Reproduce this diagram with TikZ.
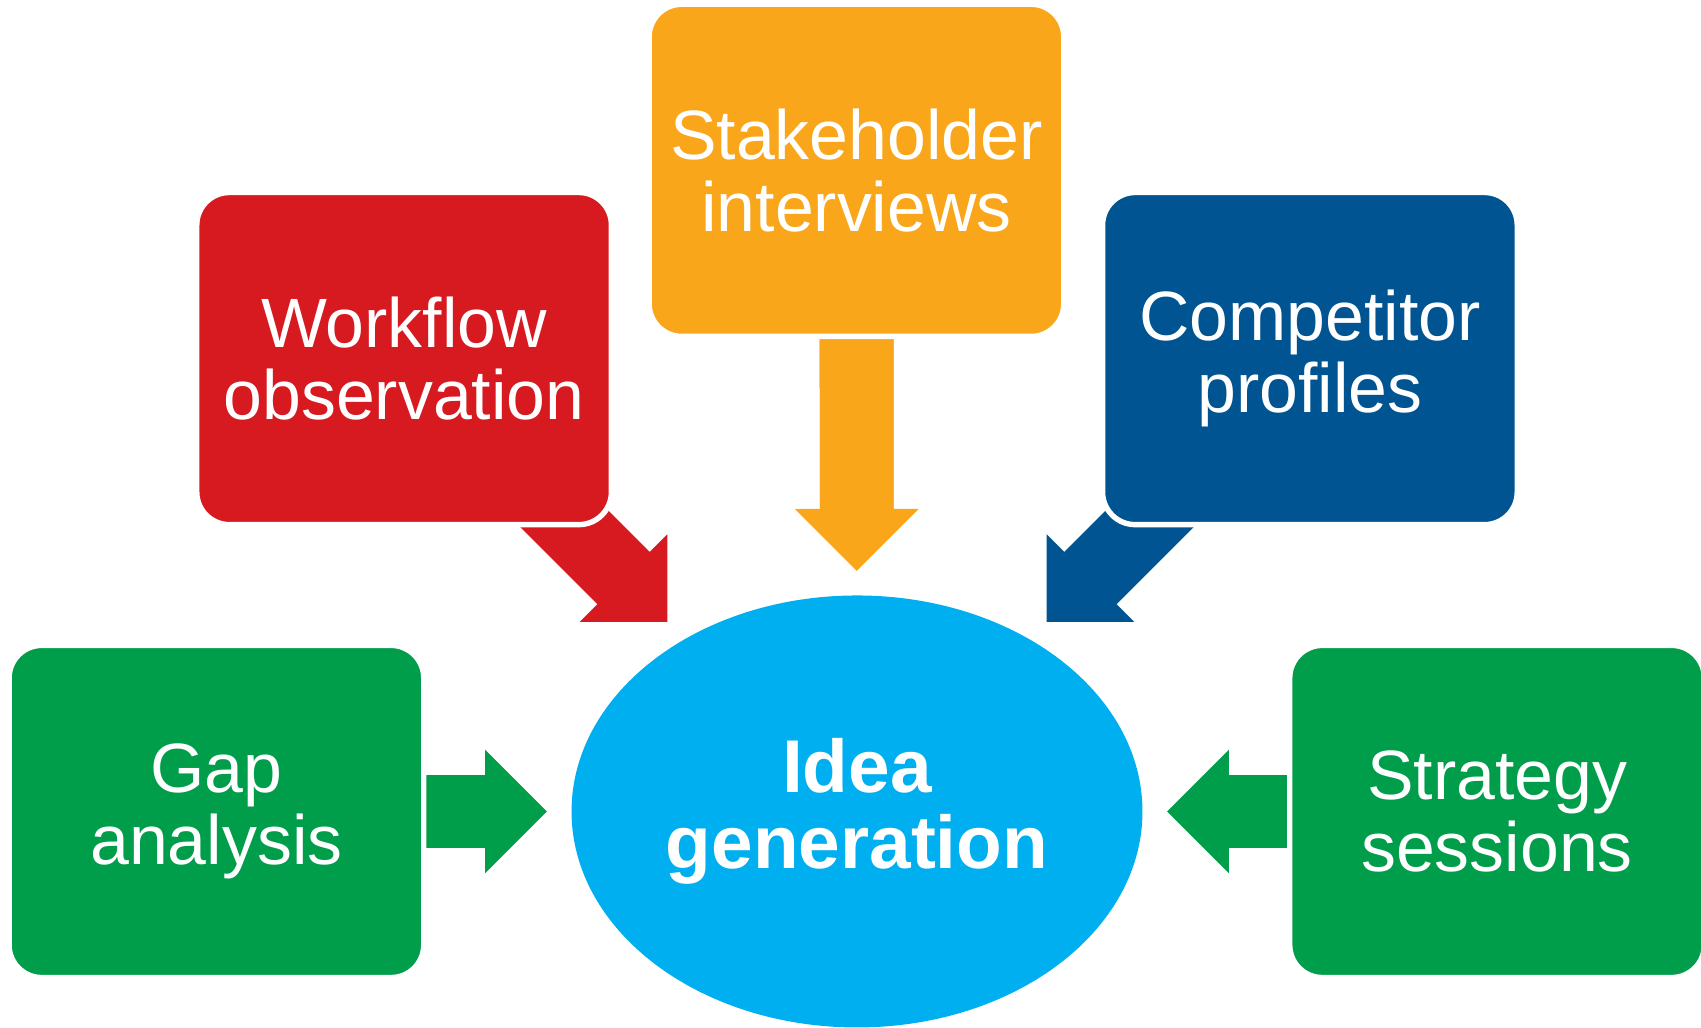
\documentclass[tikz,border=0pt]{standalone}
\usepackage{fontspec}
\setmainfont{Liberation Sans}
\usetikzlibrary{positioning}
\usetikzlibrary{shapes}
\usetikzlibrary{backgrounds}
\usetikzlibrary{arrows.meta}

\begin{document}
\begin{tikzpicture}[x=0.01cm, y=-0.01cm,
    bx/.style={draw=white, line width=0.05cm, rounded corners=0.3cm, minimum width=3.82cm, minimum height=3.06cm, inner sep=0pt, align=center, text=white, font=\fontsize{18.3}{19}\selectfont},
    ar/.style={line width=0.68cm, shorten >=0.22cm, -{Triangle[length=0.57cm, width=1.14cm, line width=0pt]},
        postaction={draw, -, shorten >=0.68cm}}
    ]
\definecolor{wrkred}{RGB}{215,25,32}
\definecolor{stkorange}{RGB}{249,166,27}
\definecolor{cmpblue}{RGB}{0,84,145}
\definecolor{gapgreen}{RGB}{0,158,75}
\definecolor{ideablue}{RGB}{0,175,239}
\useasboundingbox (0, 0) rectangle (1568, 947);
\node[ellipse, fill=ideablue, minimum width=5.26cm, minimum height=3.98cm, inner sep=0pt, align=center, text=white, font=\bfseries\fontsize{19.6}{20}\selectfont] at (790, 748) (IDEA) {Idea\\generation};
\node[bx, fill=stkorange] at (789.5, 157) (STK) {Stakeholder\\interviews};
\node[bx, fill=wrkred] at (372.5, 330.5) (WRK) {Workflow\\observation};
\node[bx, fill=cmpblue] at (1207.5, 330.5) (CMP) {Competitor\\profiles};
\node[bx, fill=gapgreen] at (199.5, 748) (GAP) {Gap\\analysis};
\node[bx, fill=gapgreen] at (1380, 748) (STR) {Strategy\\sessions};
\begin{pgfonlayer}{background}
\draw[ar, draw=stkorange] (STK.center) -- (IDEA);
\draw[ar, draw=wrkred] (WRK.center) -- (IDEA);
\draw[ar, draw=cmpblue] (CMP.center) -- (IDEA);
\draw[ar, draw=gapgreen] (GAP.center) -- (IDEA);
\draw[ar, draw=gapgreen] (STR.center) -- (IDEA);
\end{pgfonlayer}
\end{tikzpicture}
\end{document}
